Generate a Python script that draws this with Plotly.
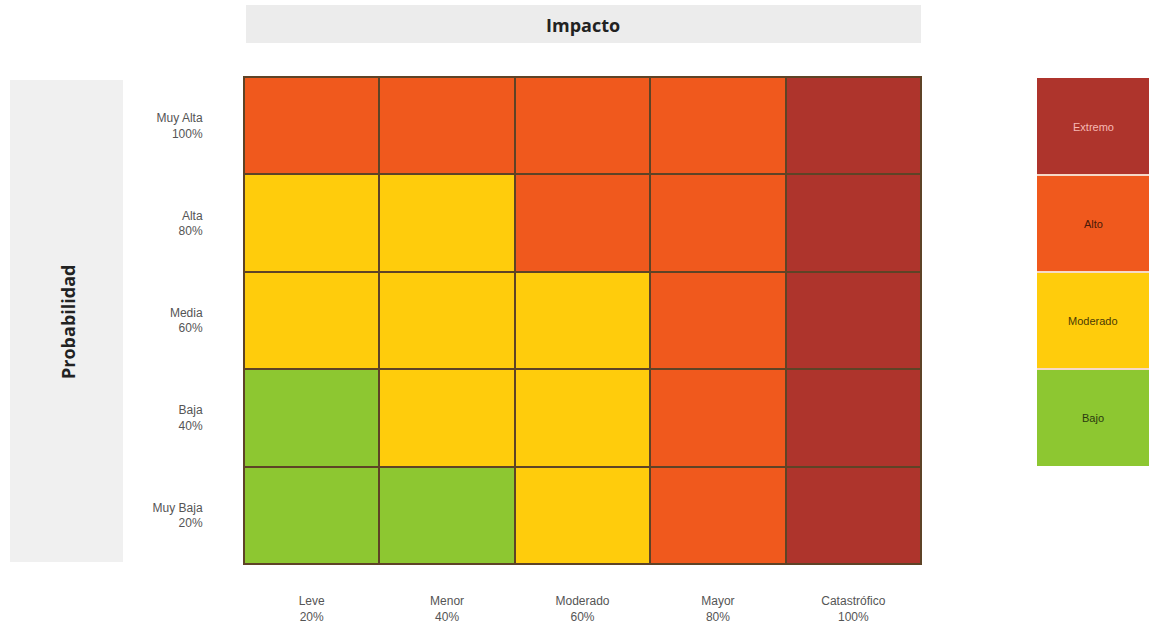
import plotly.graph_objects as go

W, H = 1149, 631

impact_labels = ["Leve<br>20%", "Menor<br>40%", "Moderado<br>60%", "Mayor<br>80%", "Catastrófico<br>100%"]
prob_labels = ["Muy Baja<br>20%", "Baja<br>40%", "Media<br>60%", "Alta<br>80%", "Muy Alta<br>100%"]

levels = ["Bajo", "Moderado", "Alto", "Extremo"]
level_colors = ["#8DC731", "#FFCC0C", "#F0591D", "#AE342C"]
level_text_colors = ["#2b3a10", "#4a3a05", "#4a1a08", "#F7B9B4"]

# risk level index per cell, rows bottom (Muy Baja) to top (Muy Alta)
risk = [
    [0, 0, 1, 2, 3],
    [0, 1, 1, 2, 3],
    [1, 1, 1, 2, 3],
    [1, 1, 2, 2, 3],
    [2, 2, 2, 2, 3],
]

def px_x(v):
    return v / W

def px_y(v):
    return 1 - v / H

n = len(levels)
colorscale = []
for i, c in enumerate(level_colors):
    colorscale.append([i / n, c])
    colorscale.append([(i + 1) / n, c])

fig = go.Figure()

fig.add_trace(go.Heatmap(
    z=risk, x=impact_labels, y=prob_labels,
    colorscale=colorscale, zmin=-0.5, zmax=n - 0.5,
    showscale=False, xgap=2, ygap=2, hoverinfo="skip",
    xaxis="x", yaxis="y",
))

fig.add_trace(go.Heatmap(
    z=[[i] for i in range(n)], x=["Nivel"], y=levels,
    colorscale=colorscale, zmin=-0.5, zmax=n - 0.5,
    showscale=False, xgap=0, ygap=0, hoverinfo="skip",
    xaxis="x2", yaxis="y2",
))

shapes = [
    dict(type="rect", xref="paper", yref="paper", x0=px_x(246), x1=px_x(921), y0=px_y(43), y1=px_y(5),
         fillcolor="#ECECEC", line=dict(width=0), layer="below"),
    dict(type="rect", xref="paper", yref="paper", x0=px_x(10), x1=px_x(123), y0=px_y(562), y1=px_y(80),
         fillcolor="#F0F0F0", line=dict(width=0), layer="below"),
]
for i in range(n - 1):
    shapes.append(dict(type="line", xref="x2 domain", yref="y2", x0=0, x1=1, y0=i + 0.5, y1=i + 0.5,
                       line=dict(color="#F6D9C8", width=2)))

annotations = [
    dict(text="<b>Impacto</b>", xref="paper", yref="paper", x=px_x(583), y=px_y(25),
         xanchor="center", yanchor="middle",
         showarrow=False, font=dict(family="Open Sans", size=18, color="#222")),
    dict(text="<b>Probabilidad</b>", xref="paper", yref="paper", x=px_x(68), y=px_y(322),
         xanchor="center", yanchor="middle",
         showarrow=False, textangle=-90, font=dict(family="Open Sans", size=18, color="#222")),
]
for lvl, tc in zip(levels, level_text_colors):
    annotations.append(dict(text=lvl, xref="x2", yref="y2", x="Nivel", y=lvl, showarrow=False,
                            font=dict(family="Liberation Sans", size=11, color=tc)))

tick_font = dict(family="Liberation Sans", size=12, color="#555")

fig.update_layout(
    width=W, height=H,
    margin=dict(l=0, r=0, t=0, b=0),
    paper_bgcolor="white",
    plot_bgcolor="#5E4326",
    shapes=shapes,
    annotations=annotations,
    xaxis=dict(domain=[px_x(244), px_x(921)], anchor="y", tickfont=tick_font, showgrid=False,
               zeroline=False, ticks="", ticklabelstandoff=26, showline=True, mirror=True,
               linecolor="#5E4326", linewidth=1, fixedrange=True),
    yaxis=dict(domain=[px_y(564), px_y(77)], anchor="x", tickfont=tick_font, showgrid=False,
               zeroline=False, ticks="", ticklabelstandoff=38, showline=True, mirror=True,
               linecolor="#5E4326", linewidth=1, fixedrange=True),
    xaxis2=dict(domain=[px_x(1037), 1.0], anchor="y2", showticklabels=False, showgrid=False,
                zeroline=False, ticks="", fixedrange=True),
    yaxis2=dict(domain=[px_y(466), px_y(78)], anchor="x2", showticklabels=False, showgrid=False,
                zeroline=False, ticks="", fixedrange=True),
)

fig.write_html("out.html", config={"displayModeBar": False},
               post_script="document.body.style.margin='0';document.body.style.overflow='hidden';")
